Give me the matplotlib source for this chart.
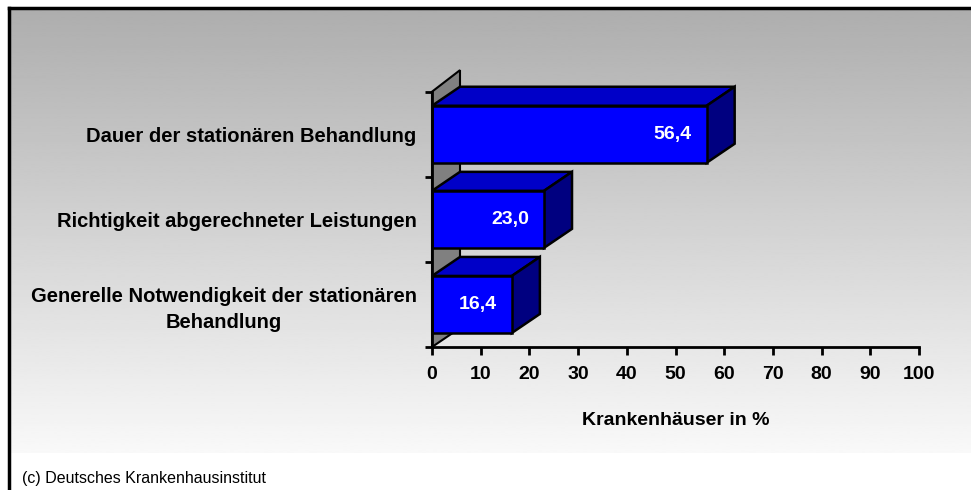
import numpy as np
import matplotlib
matplotlib.use("Agg")
import matplotlib.pyplot as plt
from matplotlib.patches import Polygon

plt.rcParams['font.family'] = ['Liberation Sans', 'DejaVu Sans']

# данные
categories = ["Generelle Notwendigkeit der stationären\nBehandlung",
              "Richtigkeit abgerechneter Leistungen",
              "Dauer der stationären Behandlung"]
values = [16.4, 23.0, 56.4]
value_labels = ["16,4", "23,0", "56,4"]
x_ticks = [0, 10, 20, 30, 40, 50, 60, 70, 80, 90, 100]

W, H = 971, 490
fig = plt.figure(figsize=(W / 100, H / 100), dpi=100)

# фон с градиентом и рамка
bg = fig.add_axes([0, 0, 1, 1], zorder=-10)
bg.set_xlim(0, W)
bg.set_ylim(H, 0)
bg.axis('off')
grad = np.linspace(0.68, 0.975, 256).reshape(-1, 1)
bg.imshow(grad, cmap='gray', vmin=0, vmax=1, aspect='auto',
          extent=[9, W, 453, 8], interpolation='bilinear')
bg.plot([9, 9], [8, H], color='black', lw=2.5)
bg.plot([9, W], [8, 8], color='black', lw=2.5)
bg.text(22, 478, "(c) Deutsches Krankenhausinstitut", fontsize=11.5,
        va='center', ha='left')

# основной график
ax = fig.add_axes([432 / W, 1 - 347 / H, 487 / W, 255.3 / H])
ax.set_facecolor('none')
ax.set_xlim(0, 100)
ax.set_ylim(-0.5, 2.5)

dx = 28 / 4.87   # глубина по x (единицы данных)
dy = 19 / 85.1   # глубина по y
bar_h = 0.67

# боковая стенка
wall = Polygon([(0, -0.5), (0, 2.5), (dx, 2.5 + dy + 0.03), (dx, -0.5 + dy)],
               closed=True, facecolor='#808080', edgecolor='black', lw=1.5,
               zorder=1, clip_on=False)
ax.add_patch(wall)

y_pos = np.arange(len(values))
for y, v, lab in zip(y_pos, values, value_labels):
    y0 = y - bar_h / 2
    y1 = y + bar_h / 2
    top = Polygon([(0, y1), (v, y1), (v + dx, y1 + dy), (dx, y1 + dy)],
                  facecolor='#0000c8', edgecolor='black', lw=1.8,
                  zorder=3, clip_on=False)
    side = Polygon([(v, y0), (v, y1), (v + dx, y1 + dy), (v + dx, y0 + dy)],
                   facecolor='#000080', edgecolor='black', lw=1.8,
                   zorder=3, clip_on=False)
    ax.add_patch(top)
    ax.add_patch(side)
    ax.barh(y, v, height=bar_h, color='#0000ff', edgecolor='black',
            linewidth=1.8, zorder=4)
    ax.annotate(lab, (v, y), xytext=(-15, 0), textcoords='offset pixels',
                ha='right', va='center', color='white', fontweight='bold',
                fontsize=14, zorder=5)

# оси
for s in ['top', 'right']:
    ax.spines[s].set_visible(False)
for s in ['left', 'bottom']:
    ax.spines[s].set_linewidth(2)
    ax.spines[s].set_zorder(6)

ax.set_xticks(x_ticks)
ax.set_xticklabels([str(t) for t in x_ticks], fontweight='bold', fontsize=14)
ax.tick_params(axis='x', length=6, width=2, pad=8)

ax.set_yticks([-0.5, 0.5, 1.5, 2.5])
ax.set_yticklabels([])
ax.set_yticks(y_pos, minor=True)
ax.set_yticklabels(categories, minor=True, fontweight='bold', fontsize=14.5,
                   multialignment='center', linespacing=1.45)
ax.tick_params(axis='y', which='major', length=5, width=2)
ax.tick_params(axis='y', which='minor', length=0, pad=11)

ax.set_xlabel("Krankenhäuser in %", fontweight='bold', fontsize=14)
ax.xaxis.set_label_coords(0.5, -73 / 255.3)
ax.xaxis.label.set_va('center')

fig.savefig("out.png", dpi=100)
